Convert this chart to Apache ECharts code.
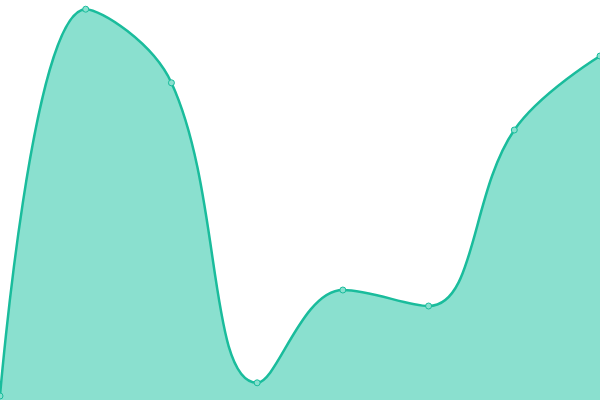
<!DOCTYPE html>
<html>
<head>
<meta charset="utf-8">
<script src="https://cdn.jsdelivr.net/npm/echarts@6/dist/echarts.min.js"></script>
<style>
  html, body { margin: 0; padding: 0; background: #fff; }
  #chart { width: 600px; height: 400px; }
</style>
</head>
<body>
<div id="chart"></div>
<script>
const categories = ['1', '2', '3', '4', '5', '6', '7', '8'];
const values = [1, 97.7, 79.3, 4.3, 27.5, 23.5, 67.5, 86];

const chart = echarts.init(document.getElementById('chart'));
chart.setOption({
  animation: false,
  grid: { left: 0, right: 0, top: 0, bottom: 0 },
  xAxis: {
    type: 'category',
    data: categories,
    boundaryGap: false,
    show: false
  },
  yAxis: {
    type: 'value',
    min: 0,
    max: 100,
    show: false
  },
  series: [{
    type: 'line',
    data: values,
    smooth: 0.4,
    symbol: 'circle',
    symbolSize: 6,
    itemStyle: { color: '#8ae0cf', borderColor: '#1abc9c', borderWidth: 1 },
    lineStyle: { color: '#1abc9c', width: 2.5 },
    areaStyle: { color: '#8ae0cf', opacity: 1 }
  }]
});
</script>
</body>
</html>
